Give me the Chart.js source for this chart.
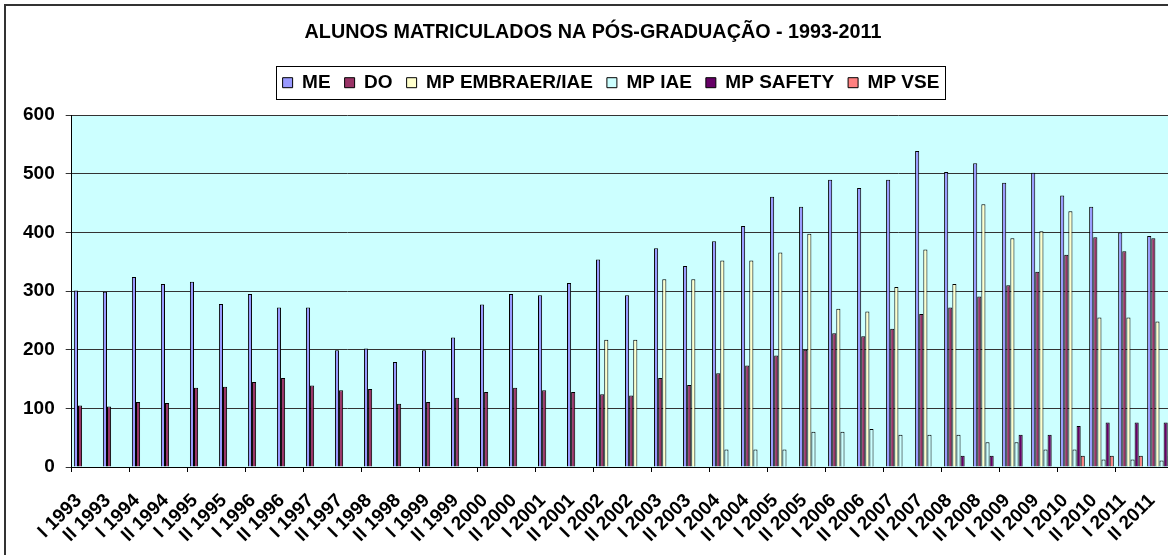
<!DOCTYPE html>
<html>
<head>
<meta charset="utf-8">
<script src="https://cdn.jsdelivr.net/npm/chart.js@4.4.1/dist/chart.umd.min.js"></script>
<style>
  html, body { margin: 0; padding: 0; background: #fff; overflow: hidden; }
  #wrap { width: 1174px; height: 555px; }
</style>
</head>
<body>
<div id="wrap"><canvas id="posChart" width="1174" height="555"></canvas></div>
<script>
// Alunos matriculados na pós-graduação, por semestre

const years = [1993, 1994, 1995, 1996, 1997, 1998, 1999, 2000, 2001, 2002,
               2003, 2004, 2005, 2006, 2007, 2008, 2009, 2010, 2011];
const semesters = years.flatMap(y => ['I ' + y, 'II ' + y]);

const meValues = [301, 299, 324, 312, 316, 278, 295, 272, 272, 199,
                  202, 179, 199, 221, 277, 295, 293, 314, 354, 293,
                  373, 343, 385, 411, 461, 444, 490, 476, 490, 539,
                  503, 518, 485, 502, 463, 444, 400, 394];
const doValues = [105, 103, 111, 109, 135, 137, 145, 152, 139, 131,
                  133, 108, 111, 118, 128, 135, 131, 128, 124, 122,
                  152, 140, 160, 173, 190, 200, 228, 223, 236, 261,
                  272, 291, 310, 333, 362, 392, 368, 390];
const embraerValues = [null, null, null, null, null, null, null, null, null, null,
                       null, null, null, null, null, null, null, null, 217, 217,
                       320, 320, 352, 352, 366, 398, 270, 265, 307, 371,
                       312, 448, 390, 402, 436, 255, 255, 248];
const iaeValues = [null, null, null, null, null, null, null, null, null, null,
                   null, null, null, null, null, null, null, null, null, null,
                   null, null, 30, 30, 30, 60, 60, 65, 55, 55,
                   55, 42, 42, 30, 30, 13, 13, 11];
const safetyValues = [null, null, null, null, null, null, null, null, null, null,
                      null, null, null, null, null, null, null, null, null, null,
                      null, null, null, null, null, null, null, null, null, null,
                      19, 19, 55, 55, 70, 76, 76, 76];
const vseValues = [null, null, null, null, null, null, null, null, null, null,
                   null, null, null, null, null, null, null, null, null, null,
                   null, null, null, null, null, null, null, null, null, null,
                   null, null, null, null, 19, 19, 19, 19];

const yTicks = [0, 100, 200, 300, 400, 500, 600];

const FONT = "'Liberation Sans', Arial, sans-serif";
const LEGEND_SHIFT = 18;

function barSet(label, data, color) {
  return {
    label: label,
    data: data,
    backgroundColor: color,
    borderColor: '#000',
    borderWidth: 1,
    barPercentage: 1.0,
    categoryPercentage: 0.85
  };
}

// more room under the legend, and the legend sits a little right of centre
const legendTweak = {
  id: 'legendTweak',
  beforeLayout(chart) {
    const lg = chart.legend;
    if (lg && !lg._patched) {
      const fit = lg.fit;
      const draw = lg.draw;
      lg.fit = function () { fit.call(this); this.height += 13; };
      lg.draw = function (area) {
        this.ctx.save();
        this.ctx.translate(LEGEND_SHIFT, 0);
        draw.call(this, area);
        this.ctx.restore();
      };
      lg._patched = true;
    }
  }
};

// plot background, outer frame and the legend box
const excelLook = {
  id: 'excelLook',
  beforeDraw(chart) {
    const { ctx, chartArea: a } = chart;
    ctx.save();
    ctx.fillStyle = '#ccffff';
    ctx.fillRect(a.left, a.top, a.right - a.left, a.bottom - a.top);
    ctx.restore();
  },
  afterDraw(chart) {
    const ctx = chart.ctx;
    ctx.save();
    ctx.strokeStyle = '#333';
    ctx.lineWidth = 2;
    ctx.strokeRect(5, 5, chart.width + 20, chart.height + 20);

    const boxes = chart.legend.legendHitBoxes;
    if (boxes && boxes.length) {
      const x0 = Math.min(...boxes.map(b => b.left)) - 7 + LEGEND_SHIFT;
      const x1 = Math.max(...boxes.map(b => b.left + b.width)) + 5 + LEGEND_SHIFT;
      const y0 = Math.min(...boxes.map(b => b.top)) - 7;
      const y1 = Math.max(...boxes.map(b => b.top + b.height)) + 7;
      ctx.strokeStyle = '#000';
      ctx.lineWidth = 1;
      ctx.strokeRect(Math.round(x0) + 0.5, Math.round(y0) + 0.5, Math.round(x1 - x0), Math.round(y1 - y0));
    }
    ctx.restore();
  }
};

const posChart = new Chart(document.getElementById('posChart').getContext('2d'), {
  type: 'bar',
  data: {
    labels: semesters,
    datasets: [
      barSet('ME', meValues, '#9999ff'),
      barSet('DO', doValues, '#993366'),
      barSet('MP EMBRAER/IAE', embraerValues, '#ffffcc'),
      barSet('MP IAE', iaeValues, '#ccffff'),
      barSet('MP SAFETY', safetyValues, '#660066'),
      barSet('MP VSE', vseValues, '#ff8080')
    ]
  },
  options: {
    responsive: false,
    animation: false,
    layout: { padding: { top: 0, left: 12, right: 0, bottom: 2 } },
    plugins: {
      title: {
        display: true,
        text: 'ALUNOS MATRICULADOS NA PÓS-GRADUAÇÃO - 1993-2011',
        color: '#000',
        font: { family: FONT, size: 19.75, weight: 'bold' },
        padding: { top: 21, bottom: 14.5 }
      },
      legend: {
        display: true,
        position: 'top',
        labels: {
          color: '#000',
          font: { family: FONT, size: 19, weight: 'bold' },
          boxWidth: 10,
          boxHeight: 10,
          padding: 14
        }
      },
      tooltip: { enabled: false }
    },
    scales: {
      x: {
        afterFit: (scale) => {
          scale.height = 86;
          scale.paddingLeft = 0;
          scale.paddingRight = 0;
        },
        grid: {
          offset: true,
          drawOnChartArea: false,
          tickLength: 5,
          color: (c) => (c.index % 2 === 0 ? '#000' : 'rgba(0,0,0,0)')
        },
        border: { color: '#000', width: 1 },
        ticks: {
          color: '#000',
          autoSkip: false,
          maxRotation: 45,
          minRotation: 45,
          padding: 10,
          // two trailing spaces pull the text a little left of the tick, as Excel does
          callback: function (value) { return this.getLabelForValue(value) + '  '; },
          font: { family: FONT, size: 19, weight: 'bold' }
        }
      },
      y: {
        min: yTicks[0],
        max: yTicks[yTicks.length - 1],
        afterBuildTicks: (axis) => { axis.ticks = yTicks.map(v => ({ value: v })); },
        grid: { color: '#333', tickLength: 6 },
        border: { color: '#000', width: 1 },
        ticks: {
          color: '#000',
          padding: 11,
          font: { family: FONT, size: 19, weight: 'bold' }
        }
      }
    }
  },
  plugins: [legendTweak, excelLook]
});
</script>
</body>
</html>
